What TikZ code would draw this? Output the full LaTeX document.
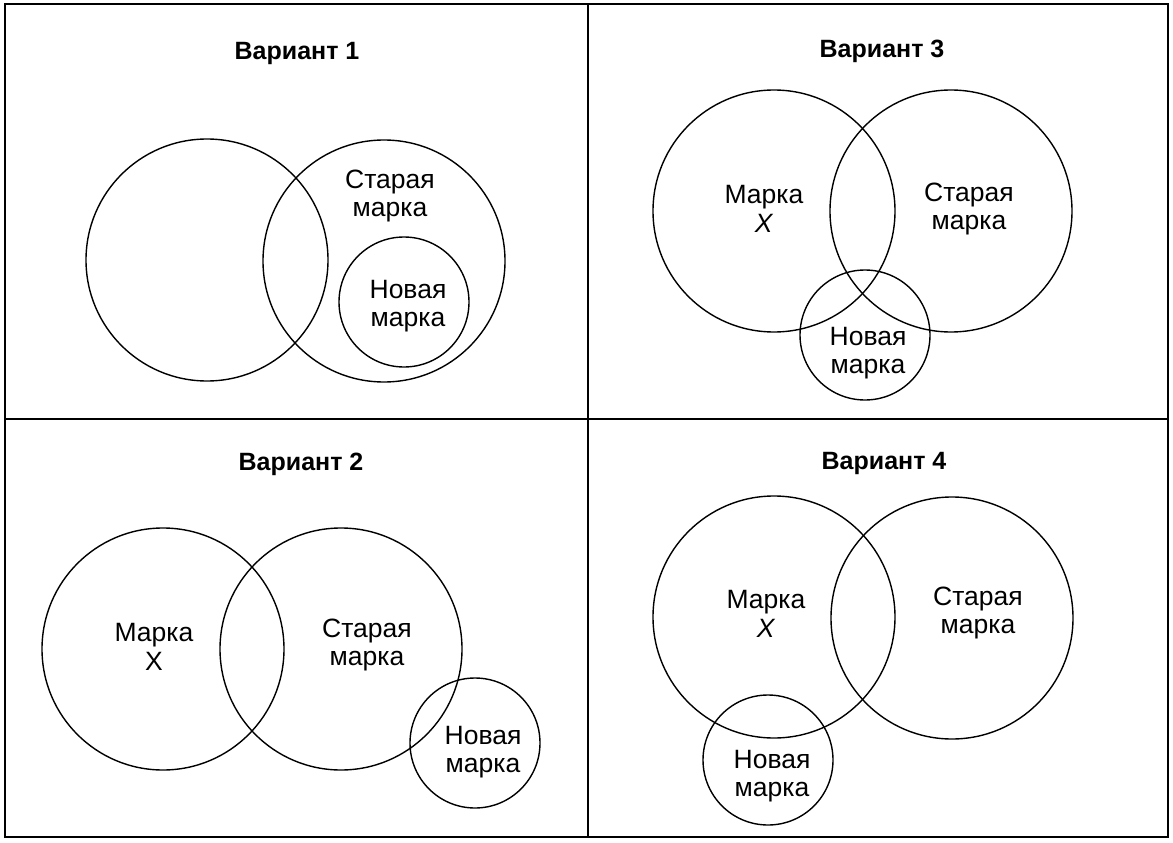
\documentclass[tikz,border=0pt]{standalone}
\usepackage{fontspec}
\setmainfont{Liberation Sans}
\begin{document}
\begin{tikzpicture}[x=1pt,y=-1pt,
  venn/.style={draw, circle, line width=1.4pt, inner sep=0pt},
  big/.style={venn, minimum size=242pt},
  small/.style={venn, minimum size=130pt},
  lbl/.style={align=center, inner sep=0pt, font=\fontsize{26.5}{28.5}\selectfont},
  ttl/.style={inner sep=0pt, font=\fontsize{25}{28}\selectfont\bfseries},
  frm/.style={line width=2.6pt}]
\useasboundingbox (0,0) rectangle (1173,843);
% frame
\draw[frm] (5,4) rectangle (1168,837);
\draw[frm] (5,419) -- (1168,419);
\draw[frm] (588,4) -- (588,837);

% Variant 1
\node[ttl] (t1) at (297,53) {Вариант 1};
\node[big] (a1) at (207,260) {};
\node[big] (b1) at (384,261) {};
\node[small] (c1) at (404,302) {};
\node[lbl] (lb1) at (390,196) {Старая\\марка};
\node[lbl] (lc1) at (408,306) {Новая\\марка};

% Variant 3
\node[ttl] (t3) at (882,51) {Вариант 3};
\node[big] (a3) at (774,211) {};
\node[big] (b3) at (951,211) {};
\node[small] (c3) at (865,335) {};
\node[lbl] (la3) at (764,209) {Марка\\\textit{X}};
\node[lbl] (lb3) at (969,209) {Старая\\марка};
\node[lbl] (lc3) at (868,353) {Новая\\марка};

% Variant 2
\node[ttl] (t2) at (301,464) {Вариант 2};
\node[big] (a2) at (163,649) {};
\node[big] (b2) at (341,649) {};
\node[small] (c2) at (475,743) {};
\node[lbl] (la2) at (154,647) {Марка\\X};
\node[lbl] (lb2) at (367,645) {Старая\\марка};
\node[lbl] (lc2) at (483,752) {Новая\\марка};

% Variant 4
\node[ttl] (t4) at (884,463) {Вариант 4};
\node[big] (a4) at (774,617) {};
\node[big] (b4) at (952,618) {};
\node[small] (c4) at (768,760) {};
\node[lbl] (la4) at (766,614) {Марка\\\textit{X}};
\node[lbl] (lb4) at (978,613) {Старая\\марка};
\node[lbl] (lc4) at (772,776) {Новая\\марка};
\end{tikzpicture}
\end{document}
